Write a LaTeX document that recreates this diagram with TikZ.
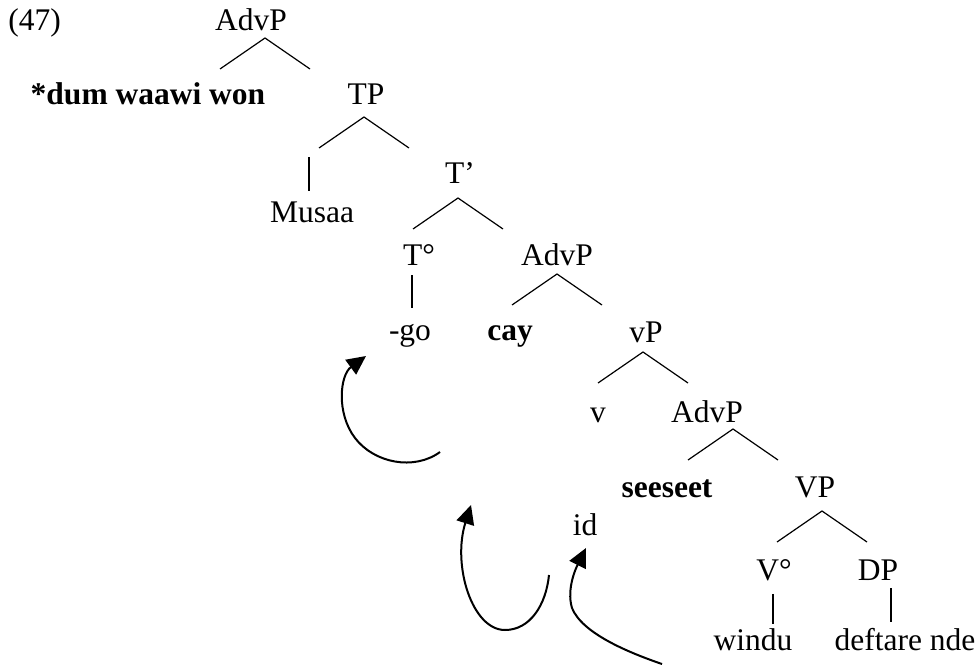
\documentclass[tikz,border=0pt]{standalone}
\usepackage{fontspec}
\setmainfont{Liberation Serif}
\usetikzlibrary{arrows.meta}
\newcommand{\treefont}{\fontsize{15.75}{18}\selectfont}

\begin{document}
\begin{tikzpicture}[x=0.5pt, y=-0.5pt,
    lbl/.style={font=\treefont, inner sep=0pt, anchor=base},
    boldlbl/.style={lbl, font=\treefont\bfseries},
    branch/.style={line width=0.6pt},
    move/.style={line width=1pt, -{Triangle[length=9.5pt, width=9pt]}}]
  \useasboundingbox (0,0) rectangle (979,669);

  % labels
  \node[lbl, anchor=base west] (ex) at (8,30) {(47)};
  \node[lbl] (advp) at (251,30) {AdvP};
  \node[boldlbl] (dum) at (148,104) {*dum waawi won};
  \node[lbl] (tp) at (366,104) {TP};
  \node[lbl] (musaa) at (312,222) {Musaa};
  \node[lbl] (tbar) at (460,183) {T’};
  \node[lbl] (thead) at (419,265) {T°};
  \node[lbl] (advpb) at (557,265) {AdvP};
  \node[lbl] (go) at (410,340) {-go};
  \node[boldlbl] (cay) at (510,340) {cay};
  \node[lbl] (vp) at (646,342) {vP};
  \node[lbl] (vsmall) at (598,422) {v};
  \node[lbl] (advpc) at (707,422) {AdvP};
  \node[boldlbl] (seeseet) at (667,497) {seeseet};
  \node[lbl] (vphrase) at (815,497) {VP};
  \node[lbl] (id) at (585,535) {id};
  \node[lbl] (vhead) at (774,580) {V°};
  \node[lbl] (dp) at (878,580) {DP};
  \node[lbl] (windu) at (753,650) {windu};
  \node[lbl] (deftare) at (905,650) {deftare nde};

  % branching points
  \coordinate (advp-fork) at (265,38);
  \coordinate (tp-fork) at (364,117);
  \coordinate (tbar-fork) at (458,198);
  \coordinate (advpb-fork) at (557,274);
  \coordinate (vp-fork) at (643,352);
  \coordinate (advpc-fork) at (733,429);
  \coordinate (vphrase-fork) at (822,511);
  \foreach \f in {advp,tp,tbar,advpb,vp,advpc,vphrase}
    \draw[branch] ([shift={(-45,31)}]\f-fork) -- (\f-fork) -- ([shift={(45,31)}]\f-fork);

  % non-branching
  \draw[branch] (musaa.north) ++(-3,-10) -- ++(0,-34);
  \draw[branch] (thead.south) ++(-7,10) -- ++(0,33);
  \draw[branch] (vhead.south) ++(-1,13) -- ++(0,30);
  \draw[branch] (dp.south) ++(13,8) -- ++(0,34);

  % head movement
  \coordinate (mv1-tail) at (440,452);
  \coordinate (mv1-head) at (366,356);
  \coordinate (mv2-tail) at (549,575);
  \coordinate (mv2-head) at (471,505);
  \coordinate (mv3-tail) at (662,664);
  \coordinate (mv3-head) at (586,548);
  \draw[move] (mv1-tail) .. controls (414,471) and (374,463) .. (355,438)
    .. controls (336,413) and (340,375) .. (mv1-head);
  \draw[move] (mv2-tail) .. controls (546,605) and (530,630) .. (505,630)
    .. controls (472,630) and (452,565) .. (mv2-head);
  \draw[move] (mv3-tail) .. controls (627,652) and (582,633) .. (572,608)
    .. controls (566,588) and (577,566) .. (mv3-head);
\end{tikzpicture}
\end{document}
